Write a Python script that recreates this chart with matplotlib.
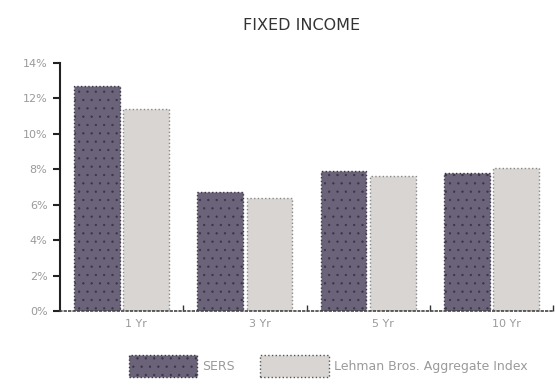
import numpy as np
import matplotlib.pyplot as plt
from matplotlib.patches import Patch

periods = ['1 Yr', '3 Yr', '5 Yr', '10 Yr']
sers = [12.7, 6.7, 7.9, 7.8]
lehman = [11.4, 6.4, 7.6, 8.1]
yticks = [0, 2, 4, 6, 8, 10, 12, 14]

c_sers = '#6b6379'
c_leh = '#d9d5d3'
txt = '#9a9a9a'

plt.rcParams['hatch.linewidth'] = 0.4

fig = plt.figure(figsize=(5.55, 3.92), dpi=100, facecolor='w')
ax = fig.add_axes([60/555, 81/392, 493/555, 248/392])

x = np.arange(len(periods))
w = 0.37
b1 = ax.bar(x - w/2 - 0.015, sers, w, color=c_sers, edgecolor='#3a3444',
            linewidth=1.0, linestyle=':', hatch='..')
b2 = ax.bar(x + w/2 + 0.015, lehman, w, color=c_leh, edgecolor='#888888',
            linewidth=1.0, linestyle=':')

ax.set_xlim(-0.5, 3.5)
ax.set_ylim(0, 14)
ax.set_yticks(yticks)
ax.set_yticklabels(['%d%%' % v for v in yticks], color=txt, fontsize=8)
ax.set_xticks(x + 0.12)
ax.set_xticklabels(periods, color=txt, fontsize=8)
ax.set_xticks(np.arange(0.5, 4.0, 1.0), minor=True)
ax.tick_params(axis='x', which='major', length=0, pad=6)
ax.tick_params(axis='x', which='minor', length=4, width=1, color='#333333', direction='in')
ax.tick_params(axis='y', length=5, width=1.5, color='#222222', pad=4)

for s in ['top', 'right']:
    ax.spines[s].set_visible(False)
ax.spines['left'].set_linewidth(1.5)
ax.spines['left'].set_color('#222222')
ax.spines['bottom'].set_linewidth(1.2)
ax.spines['bottom'].set_linestyle(':')
ax.spines['bottom'].set_color('#444444')

fig.text(302/555, 1 - 25/392, 'FIXED INCOME', ha='center', va='center',
         fontsize=11.5, color='#333333')

handles = [Patch(facecolor=c_sers, edgecolor='#3a3444', linestyle=':', hatch='..'),
           Patch(facecolor=c_leh, edgecolor='#555555', linestyle=':')]
fig.legend(handles, ['SERS', 'Lehman Bros. Aggregate Index'],
           loc='center', bbox_to_anchor=(328/555, 1 - 366/392), ncol=2,
           frameon=False, fontsize=9, labelcolor=txt,
           handlelength=5.5, handleheight=2.4, handletextpad=0.4, columnspacing=2.0)

fig.savefig('out.png', dpi=100)
